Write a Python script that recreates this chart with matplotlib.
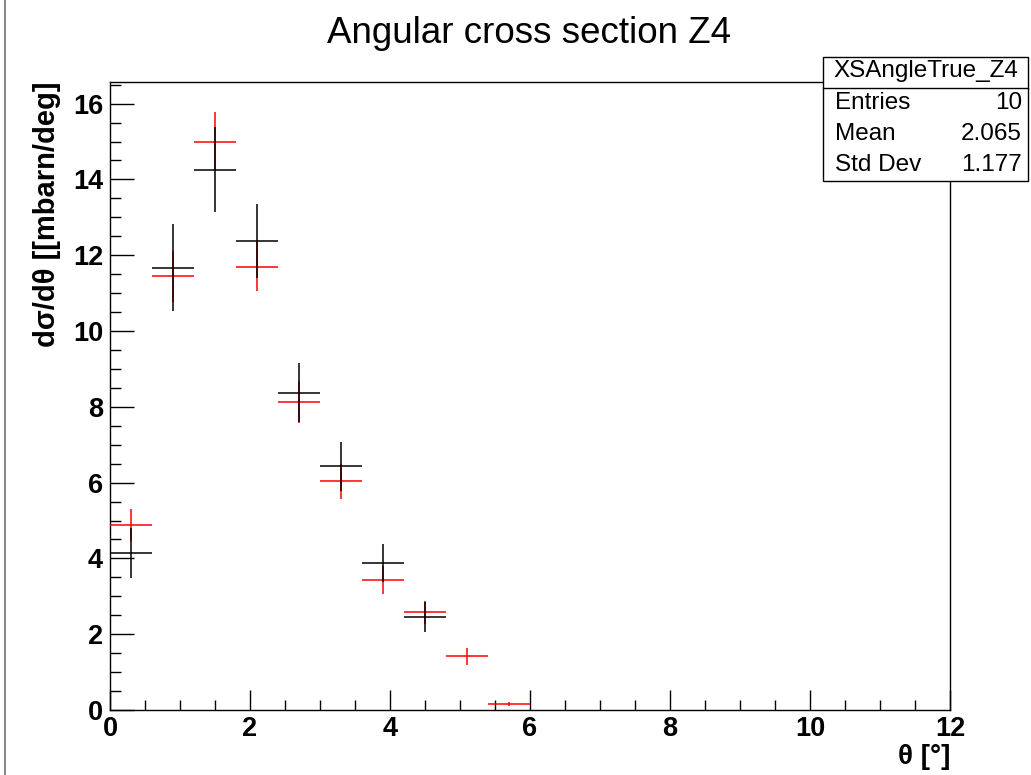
import numpy as np
import matplotlib
matplotlib.use("Agg")
import matplotlib.pyplot as plt
from matplotlib.patches import Rectangle
from matplotlib.lines import Line2D

plt.rcParams['font.family'] = ['Liberation Sans', 'DejaVu Sans']

# ---------------- data ----------------
bin_centers = [0.3, 0.9, 1.5, 2.1, 2.7, 3.3, 3.9, 4.5, 5.1, 5.7]
bin_width = 0.6

true_vals = [4.14, 11.67, 14.26, 12.38, 8.37, 6.43, 3.88, 2.45, np.nan, np.nan]
true_errs = [0.66, 1.15, 1.11, 0.97, 0.78, 0.65, 0.49, 0.39, np.nan, np.nan]

reco_vals = [4.88, 11.44, 15.00, 11.70, 8.12, 6.04, 3.42, 2.58, 1.42, 0.16]
reco_errs = [0.42, 0.68, 0.77, 0.65, 0.55, 0.46, 0.37, 0.30, 0.22, 0.06]

title = "Angular cross section Z4"
xlabel = "θ [°]"
ylabel = "dσ/dθ [[mbarn/deg]"
stats_name = "XSAngleTrue_Z4"
stats_rows = [("Entries", "10"), ("Mean", "2.065"), ("Std Dev", "1.177")]

W, H = 1031, 775
fig = plt.figure(figsize=(W / 100, H / 100), dpi=100)
fig.patch.set_facecolor('white')

def fx(px):
    return px / W

def fy(py):
    return 1 - py / H

ax = fig.add_axes([fx(110), fy(710), fx(950) - fx(110), fy(82) - fy(710)])
ax.set_xlim(0, 12)
ax.set_ylim(0, 16.57)

def draw_hist(vals, errs, color, z):
    x = np.array(bin_centers)
    v = np.array(vals, dtype=float)
    e = np.array(errs, dtype=float)
    m = ~np.isnan(v)
    ax.hlines(v[m], x[m] - bin_width / 2, x[m] + bin_width / 2, colors=color, lw=1.1, zorder=z)
    ax.vlines(x[m], v[m] - e[m], v[m] + e[m], colors=color, lw=1.1, zorder=z)

draw_hist(reco_vals, reco_errs, 'red', 3)
draw_hist(true_vals, true_errs, 'black', 4)

# axes styling (ROOT-like)
for s in ['top', 'right', 'bottom', 'left']:
    ax.spines[s].set_linewidth(1.0)
ax.set_xticks(np.arange(0, 13, 2))
ax.set_xticks(np.arange(0, 12.01, 0.5), minor=True)
ax.set_yticks(np.arange(0, 17, 2))
ax.set_yticks(np.arange(0, 16.6, 0.5), minor=True)
ax.tick_params(axis='both', which='both', direction='in', top=False, right=False)
ax.tick_params(axis='x', which='major', length=14.4, width=1.0, pad=4, labelsize=19.5)
ax.tick_params(axis='x', which='minor', length=7.2, width=1.0)
ax.tick_params(axis='y', which='major', length=17, width=1.0, pad=5, labelsize=19.5)
ax.tick_params(axis='y', which='minor', length=8, width=1.0)
for lab in ax.get_xticklabels() + ax.get_yticklabels():
    lab.set_fontweight('bold')

# title and axis titles
fig.text(fx(529), fy(43.3), title, ha='center', va='baseline', fontsize=26.5)
fig.text(fx(950), fy(757), xlabel, ha='right', va='center', fontsize=20, fontweight='bold')
fig.text(fx(47), fy(81.7), ylabel, ha='center', va='top', rotation=90, fontsize=21, fontweight='bold')

# stats box
bl, br, bt, bb, bs = 823, 1028, 57, 181, 88
fig.add_artist(Rectangle((fx(bl), fy(bb)), fx(br) - fx(bl), fy(bt) - fy(bb),
                         transform=fig.transFigure, facecolor='white', edgecolor='black', lw=1.0, zorder=10))
fig.add_artist(Line2D([fx(bl), fx(br)], [fy(bs), fy(bs)], transform=fig.transFigure, color='black', lw=1.0, zorder=11))
fig.text(fx((bl + br) / 2), fy(71), stats_name, ha='center', va='center', fontsize=17.5, zorder=12)
row_y = [103, 134, 165]
for (lab, val), yy in zip(stats_rows, row_y):
    fig.text(fx(835), fy(yy), lab, ha='left', va='center', fontsize=17.5, zorder=12)
    fig.text(fx(1022), fy(yy), val, ha='right', va='center', fontsize=17.5, zorder=12)

# left border line of canvas
fig.add_artist(Line2D([fx(4.5), fx(4.5)], [0, 1], transform=fig.transFigure, color='#8a8a8a', lw=1.5))

fig.savefig('out.png', dpi=100, facecolor='white')
